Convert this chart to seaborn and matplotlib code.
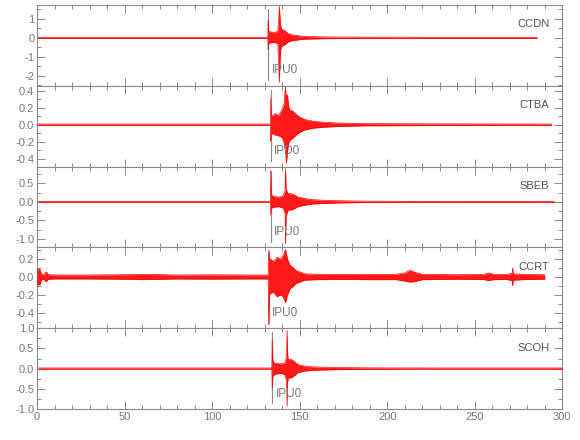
import numpy as np
import pandas as pd
import matplotlib
matplotlib.use("Agg")
import matplotlib.pyplot as plt
import seaborn as sns
from matplotlib.ticker import MultipleLocator, FormatStrFormatter

# station order, top to bottom
stations = ["CCDN", "CTBA", "SBEB", "CCRT", "SCOH"]
pick_labels = ["IPU0", "IPD0", "IPU0", "IPU0", "IPU0"]
pick_times = [132.0, 133.5, 133.5, 132.3, 134.3]

# envelopes (time in s, upper / lower amplitude)
ccdn_t = [0.6, 131.8, 132.0, 132.2, 132.6, 134, 136, 137.5, 138.4, 138.7, 139.0, 139.6,
          140.5, 141.5, 143.4, 145, 147.2, 150, 153, 158, 162, 172, 187, 220, 285.6]
ccdn_hi = [0.03, 0.03, 0.9, 0.38, 0.32, 0.3, 0.28, 0.36, 1.64, 1.1, 0.7, 0.45,
           0.42, 0.38, 0.22, 0.17, 0.13, 0.1, 0.07, 0.06, 0.05, 0.04, 0.035, 0.03, 0.03]
ccdn_lo = [-0.03, -0.03, -0.6, -0.3, -0.28, -0.26, -0.25, -0.3, -2.33, -1.4, -0.7, -0.45,
           -0.4, -0.36, -0.22, -0.17, -0.13, -0.1, -0.07, -0.06, -0.05, -0.04, -0.035, -0.03, -0.03]

ctba_t = [0.5, 133.3, 133.5, 133.8, 134.5, 136, 138, 140, 141.1, 141.8, 142.4, 143.0,
          143.6, 144.5, 146, 148, 150, 153, 158, 163, 172, 187, 220, 294]
ctba_hi = [0.008, 0.008, 0.31, 0.12, 0.1, 0.13, 0.11, 0.18, 0.25, 0.44, 0.3, 0.35,
           0.22, 0.17, 0.16, 0.12, 0.09, 0.06, 0.04, 0.03, 0.02, 0.013, 0.01, 0.008]
ctba_lo = [-0.008, -0.008, -0.19, -0.12, -0.1, -0.12, -0.13, -0.15, -0.22, -0.3, -0.45, -0.32,
           -0.22, -0.18, -0.16, -0.12, -0.09, -0.06, -0.04, -0.03, -0.02, -0.013, -0.01, -0.008]

sbeb_t = [0.8, 133.3, 133.5, 133.8, 134.5, 136, 138.5, 140.5, 141.6, 141.9, 142.2, 143.4,
          145, 146.5, 149, 153, 157, 162.4, 172, 187, 220, 295.5]
sbeb_hi = [0.01, 0.01, 0.85, 0.2, 0.16, 0.14, 0.13, 0.16, 0.3, 0.9, 0.35, 0.22,
           0.22, 0.2, 0.13, 0.09, 0.06, 0.045, 0.03, 0.018, 0.012, 0.01]
sbeb_lo = [-0.01, -0.01, -0.35, -0.17, -0.16, -0.14, -0.13, -0.17, -0.3, -1.14, -0.4, -0.22,
           -0.22, -0.2, -0.13, -0.09, -0.06, -0.045, -0.03, -0.018, -0.012, -0.01]

ccrt_t = [0.0, 0.5, 1.0, 1.5, 2.5, 4.0, 4.8, 5.5, 6.5, 10, 30, 55, 60, 80, 100, 120,
          132.0, 132.3, 132.6, 133.5, 135, 137, 139, 140.5, 141.9, 143, 144.5, 146, 148,
          150, 153, 160, 175, 190, 205, 210, 213, 216, 220, 240, 255, 258, 261, 268,
          271.3, 271.6, 272, 280, 290]
ccrt_hi = [0.02, 0.094, 0.08, 0.09, 0.03, 0.025, 0.056, 0.05, 0.025, 0.022, 0.022, 0.026,
           0.03, 0.022, 0.024, 0.022, 0.022, 0.3, 0.2, 0.2, 0.17, 0.22, 0.2, 0.24, 0.31,
           0.2, 0.13, 0.11, 0.07, 0.057, 0.035, 0.03, 0.028, 0.03, 0.03, 0.045, 0.075,
           0.05, 0.03, 0.025, 0.028, 0.045, 0.03, 0.028, 0.04, 0.1, 0.035, 0.028, 0.025]
ccrt_lo = [-0.02, -0.094, -0.08, -0.09, -0.03, -0.025, -0.05, -0.045, -0.025, -0.022, -0.022,
           -0.026, -0.03, -0.022, -0.024, -0.022, -0.022, -0.54, -0.2, -0.18, -0.17, -0.22,
           -0.2, -0.22, -0.29, -0.2, -0.13, -0.11, -0.07, -0.057, -0.035, -0.03, -0.028,
           -0.03, -0.03, -0.045, -0.057, -0.05, -0.03, -0.025, -0.028, -0.04, -0.03, -0.028,
           -0.04, -0.1, -0.035, -0.028, -0.025]

scoh_t = [0.8, 134.1, 134.3, 134.6, 135.5, 137, 139.5, 141.5, 142.5, 142.8, 143.1, 143.4,
          145, 146.2, 149, 153, 157, 162.4, 172, 190, 230, 300]
scoh_hi = [0.015, 0.015, 0.72, 0.22, 0.14, 0.13, 0.12, 0.14, 0.3, 0.95, 0.35, 0.23,
           0.23, 0.2, 0.1, 0.06, 0.045, 0.035, 0.025, 0.018, 0.015, 0.015]
scoh_lo = [-0.015, -0.015, -0.5, -0.2, -0.15, -0.13, -0.12, -0.15, -0.3, -0.94, -0.35, -0.23,
           -0.23, -0.2, -0.1, -0.06, -0.045, -0.035, -0.025, -0.018, -0.015, -0.015]

traces = [
    (ccdn_t, ccdn_hi, ccdn_lo),
    (ctba_t, ctba_hi, ctba_lo),
    (sbeb_t, sbeb_hi, sbeb_lo),
    (ccrt_t, ccrt_hi, ccrt_lo),
    (scoh_t, scoh_hi, scoh_lo),
]

# axis settings per panel
y_limits = [(-2.52, 1.72), (-0.49, 0.455), (-1.235, 0.955), (-0.573, 0.331), (-1.005, 1.005)]
y_major = [1.0, 0.2, 0.5, 0.2, 0.5]
y_minor = [0.5, 0.1, 0.25, 0.1, 0.25]

sns.set_style("ticks")
plt.rcParams['font.family'] = ['Liberation Sans', 'DejaVu Sans']
grey = "#8a8a8a"

fig, axes = plt.subplots(5, 1, figsize=(5.8, 4.4), dpi=100, sharex=True)
fig.subplots_adjust(left=0.064, right=0.9695, top=0.9886, bottom=0.0705, hspace=0)

for i, ax in enumerate(axes):
    t, hi, lo = traces[i]
    df = pd.DataFrame({"t": t, "hi": hi, "lo": lo})
    ax.fill_between(df["t"], df["lo"], df["hi"], color="#ff1a1a", lw=0, zorder=3)
    sns.lineplot(data=df, x="t", y="hi", ax=ax, color="red", lw=0.5, zorder=3)
    sns.lineplot(data=df, x="t", y="lo", ax=ax, color="red", lw=0.5, zorder=3)

    ax.axvline(pick_times[i], ymin=0.07, ymax=0.95, color="#909090", lw=0.9, zorder=2)
    ax.text(pick_times[i] + 2.0, 0.19, pick_labels[i], transform=ax.get_xaxis_transform(),
            fontsize=8.5, color="#777777", ha="left", va="center")
    ax.text(0.975, 0.76, stations[i], transform=ax.transAxes, fontsize=8,
            color="#555555", ha="right", va="center")

    ax.set_xlim(0, 300)
    ax.set_ylim(*y_limits[i])
    ax.yaxis.set_major_locator(MultipleLocator(y_major[i]))
    ax.yaxis.set_minor_locator(MultipleLocator(y_minor[i]))
    ax.xaxis.set_major_locator(MultipleLocator(50))
    ax.xaxis.set_minor_locator(MultipleLocator(10))
    fmt = '%d' if y_major[i] == 1.0 else '%.1f'
    ax.yaxis.set_major_formatter(FormatStrFormatter(fmt))
    ax.tick_params(which="both", direction="in", top=True, right=True, color=grey,
                   labelcolor="#777777", labelsize=8, width=0.7, pad=2)
    ax.tick_params(which="major", length=5.5)
    ax.tick_params(which="minor", length=3)
    for s in ax.spines.values():
        s.set_color(grey)
        s.set_linewidth(0.8)
    ax.set_xlabel("")
    ax.set_ylabel("")

plt.savefig("out.png", dpi=100)
